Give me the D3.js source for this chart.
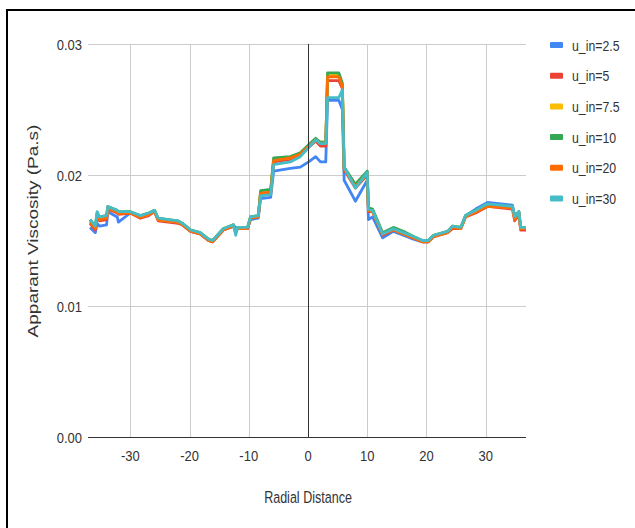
<!DOCTYPE html>
<html><head><meta charset="utf-8">
<script src="https://cdn.jsdelivr.net/npm/d3@7"></script>
<style>body{margin:0;background:#fff}svg{display:block}text{font-family:"Liberation Sans",Arial,sans-serif}</style>
</head><body>
<script>
const xValues = [-36.8,-35.9,-35.6,-35.2,-34.0,-33.8,-32.2,-32.0,-30.0,-28.3,-26.9,-25.9,-25.3,-23.6,-21.9,-21.2,-19.8,-18.2,-16.8,-16.1,-15.3,-14.3,-12.6,-12.2,-11.9,-10.2,-9.7,-8.4,-8.0,-6.3,-5.8,-3.0,-1.3,0.1,1.3,2.1,3.0,3.3,5.2,5.8,6.1,8.0,10.0,10.2,10.9,12.6,14.4,16.1,17.8,19.3,20.3,21.2,23.6,24.4,25.8,26.6,28.3,30.3,34.5,34.9,35.6,35.9,36.8];
const seriesNames = ["u_in=2.5","u_in=5","u_in=7.5","u_in=10","u_in=20","u_in=30"];
const u2_5 = [0.0160,0.0156,0.0163,0.0161,0.0162,0.0172,0.0168,0.0164,0.0171,0.0168,0.0170,0.0172,0.0166,0.0165,0.0164,0.0162,0.0157,0.0155,0.0150,0.0149,0.0153,0.0158,0.0161,0.0156,0.0159,0.0159,0.0166,0.0167,0.0182,0.0183,0.0203,0.0205,0.0206,0.0210,0.0214,0.0210,0.0210,0.0257,0.0257,0.0250,0.0196,0.0180,0.0196,0.0166,0.0168,0.0152,0.0157,0.0154,0.0151,0.0149,0.0149,0.0153,0.0157,0.0160,0.0160,0.0169,0.0174,0.0179,0.0177,0.0169,0.0172,0.0159,0.0159];
const u5 = [0.0163,0.0158,0.0168,0.0165,0.0166,0.0174,0.0171,0.0170,0.0171,0.0167,0.0169,0.0172,0.0165,0.0164,0.0163,0.0162,0.0157,0.0155,0.0150,0.0149,0.0153,0.0158,0.0161,0.0158,0.0159,0.0159,0.0167,0.0168,0.0186,0.0186,0.0210,0.0212,0.0215,0.0221,0.0226,0.0222,0.0222,0.0272,0.0272,0.0266,0.0204,0.0190,0.0200,0.0172,0.0172,0.0154,0.0158,0.0155,0.0152,0.0149,0.0149,0.0153,0.0156,0.0159,0.0159,0.0168,0.0171,0.0176,0.0174,0.0165,0.0170,0.0158,0.0158];
const u7_5 = [0.0165,0.0160,0.0170,0.0167,0.0168,0.0175,0.0172,0.0171,0.0172,0.0168,0.0170,0.0173,0.0166,0.0165,0.0164,0.0163,0.0158,0.0156,0.0151,0.0150,0.0154,0.0159,0.0162,0.0159,0.0160,0.0160,0.0168,0.0169,0.0187,0.0188,0.0212,0.0213,0.0216,0.0222,0.0227,0.0225,0.0225,0.0276,0.0276,0.0269,0.0205,0.0192,0.0202,0.0174,0.0173,0.0155,0.0159,0.0156,0.0153,0.0150,0.0150,0.0154,0.0157,0.0161,0.0160,0.0169,0.0172,0.0177,0.0175,0.0167,0.0171,0.0159,0.0159];
const u10 = [0.0166,0.0161,0.0171,0.0168,0.0169,0.0176,0.0173,0.0172,0.0172,0.0169,0.0171,0.0173,0.0167,0.0166,0.0165,0.0163,0.0158,0.0156,0.0151,0.0150,0.0154,0.0159,0.0162,0.0159,0.0160,0.0160,0.0168,0.0169,0.0188,0.0189,0.0213,0.0214,0.0217,0.0223,0.0228,0.0225,0.0225,0.0278,0.0278,0.0270,0.0206,0.0193,0.0203,0.0175,0.0174,0.0156,0.0160,0.0157,0.0153,0.0150,0.0150,0.0154,0.0157,0.0161,0.0160,0.0169,0.0173,0.0177,0.0176,0.0168,0.0172,0.0160,0.0160];
const u20 = [0.0164,0.0159,0.0169,0.0166,0.0167,0.0175,0.0172,0.0171,0.0171,0.0168,0.0170,0.0172,0.0166,0.0165,0.0164,0.0162,0.0157,0.0155,0.0150,0.0149,0.0153,0.0158,0.0161,0.0158,0.0159,0.0159,0.0167,0.0168,0.0186,0.0187,0.0211,0.0213,0.0216,0.0222,0.0227,0.0224,0.0224,0.0275,0.0275,0.0268,0.0205,0.0191,0.0201,0.0173,0.0172,0.0155,0.0158,0.0155,0.0152,0.0149,0.0149,0.0153,0.0156,0.0160,0.0159,0.0168,0.0172,0.0176,0.0175,0.0166,0.0171,0.0159,0.0159];
const u30 = [0.0166,0.0161,0.0172,0.0168,0.0169,0.0176,0.0173,0.0172,0.0172,0.0169,0.0171,0.0173,0.0167,0.0166,0.0165,0.0163,0.0158,0.0156,0.0151,0.0150,0.0154,0.0159,0.0162,0.0154,0.0160,0.0160,0.0168,0.0169,0.0184,0.0185,0.0208,0.0210,0.0214,0.0221,0.0227,0.0224,0.0224,0.0259,0.0259,0.0265,0.0206,0.0190,0.0202,0.0174,0.0173,0.0155,0.0159,0.0156,0.0153,0.0150,0.0150,0.0154,0.0157,0.0161,0.0160,0.0169,0.0173,0.0178,0.0176,0.0168,0.0172,0.0160,0.0160];
const seriesValues = [u2_5,u5,u7_5,u10,u20,u30];
const colors = ["#4285F4","#EA4335","#FBBC04","#34A853","#FF6D01","#46BDC6"];
const xTicks = [-30,-20,-10,0,10,20,30];
const yTicks = [0,0.01,0.02,0.03];

const W=635,H=528;
const svg=d3.select("body").append("svg").attr("width",W).attr("height",H);
// frame
svg.append("line").attr("x1",7).attr("x2",7).attr("y1",9).attr("y2",H).attr("stroke","#000").attr("stroke-width",2);
svg.append("line").attr("x1",6).attr("x2",W).attr("y1",10).attr("y2",10).attr("stroke","#000").attr("stroke-width",2);

const x=d3.scaleLinear().domain([-36.8,36.8]).range([90,526]);
const y=d3.scaleLinear().domain([0,0.03]).range([437,44]);

const g=svg.append("g");
g.selectAll(".vg").data(xTicks.filter(d=>d!==0)).enter().append("line")
 .attr("x1",d=>Math.round(x(d))+0.5).attr("x2",d=>Math.round(x(d))+0.5).attr("y1",y(0.03)).attr("y2",y(0))
 .attr("stroke","#cccccc").attr("stroke-width",1);
g.selectAll(".hg").data(yTicks.filter(d=>d!==0)).enter().append("line")
 .attr("x1",x.range()[0]-2).attr("x2",x.range()[1]).attr("y1",d=>Math.round(y(d))+0.5).attr("y2",d=>Math.round(y(d))+0.5)
 .attr("stroke","#cccccc").attr("stroke-width",1);

const line=d3.line().x((d,i)=>x(xValues[i])).y(d=>y(d));
seriesValues.forEach((vals,k)=>{
  g.append("path").datum(vals).attr("d",line).attr("fill","none")
   .attr("stroke",colors[k]).attr("stroke-width",2.8).attr("stroke-linejoin","round");
});

g.append("line").attr("x1",Math.round(x(0))+0.5).attr("x2",Math.round(x(0))+0.5).attr("y1",y(0.03)).attr("y2",y(0)).attr("stroke","#333").attr("stroke-width",1);
g.append("line").attr("x1",x.range()[0]-2).attr("x2",x.range()[1]).attr("y1",Math.round(y(0))+0.5).attr("y2",Math.round(y(0))+0.5).attr("stroke","#333").attr("stroke-width",1);

const sx=0.84;
g.selectAll(".xl").data(xTicks).enter().append("text")
 .attr("transform",d=>`translate(${x(d)},461) scale(${sx},1)`).attr("text-anchor","middle").attr("font-size",15.5).attr("fill","#333").text(d=>d);
g.selectAll(".yl").data(yTicks).enter().append("text")
 .attr("transform",d=>`translate(82,${y(d)+5.5}) scale(${sx},1)`).attr("text-anchor","end").attr("font-size",15.5).attr("fill","#333").text(d=>d3.format(".2f")(d));

svg.append("text").attr("transform","translate(308,503) scale(0.76,1)").attr("text-anchor","middle").attr("font-size",16.5).attr("fill","#333").text("Radial Distance");
svg.append("text").attr("transform","translate(38,231) rotate(-90) scale(1,0.8)").attr("text-anchor","middle").attr("font-size",19).attr("fill","#333").text("Apparant Viscosity (Pa.s)");

const lg=svg.append("g");
seriesNames.forEach((n,i)=>{
  const cy=45+i*30.7;
  lg.append("rect").attr("x",550).attr("y",cy-3).attr("width",13).attr("height",6).attr("rx",1).attr("fill",colors[i]);
  lg.append("text").attr("transform",`translate(572,${cy+5.5}) scale(0.82,1)`).attr("font-size",15).attr("fill","#333").text(n);
});
</script>
</body></html>
